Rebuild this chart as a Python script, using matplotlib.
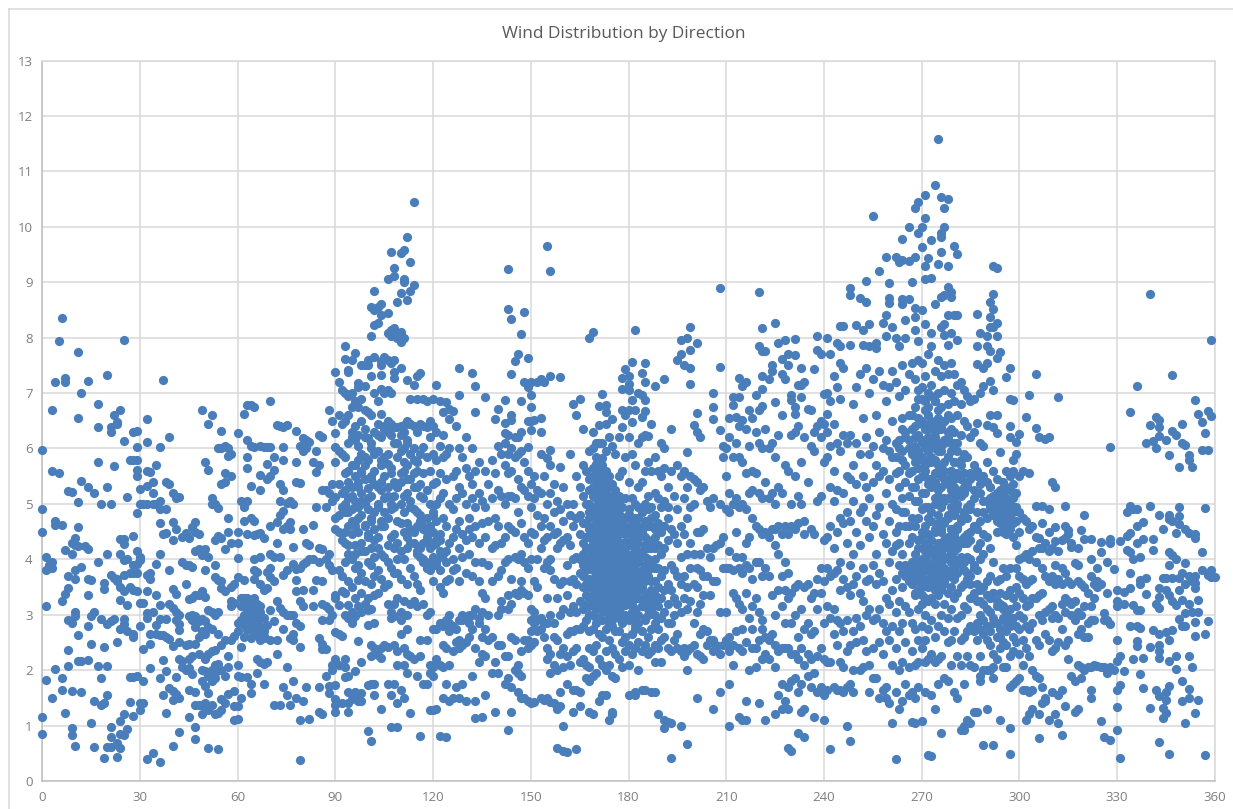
#!/usr/bin/env python3
# -*- coding: utf-8 -*-
import matplotlib
matplotlib.use('Agg')
import matplotlib.pyplot as plt
from matplotlib.lines import Line2D

# speeds read per whole degree, one row per direction, row 0 = first degree of the sector
speed_000 = [
    [5.98,4.9,4.5,1.15,0.84],
    [4.05,3.8,3.15,1.82],
    [3.85,3.9],
    [6.7,5.6,3.95,3.85,1.5],
    [7.2,4.7,4.62,2.02],
    [7.94,5.55],
    [8.35,4.62,3.25,1.85,1.65],
    [7.27,7.2,4.17,3.38,1.23],
    [5.24,3.7,3.48,2.9,2.37,2.07],
    [5.22,4.3,4.1,2.85,1.62,0.95,0.83],
    [4.38,4.25,3.8,3.65,3.05,2.98,0.63],
    [7.74,6.55,5.03,4.58,4.24,2.63,2.17],
    [7.0,5.42,3.87,2.17,1.6],
    [4.24],
    [7.21,5.3,4.18,3.65,3.35,2.8,2.18],
    [3.62,2.97,2.47,1.05],
    [5.2,3.05,1.45,0.62],
    [6.8,6.38,5.75,3.95,2.07],
    [5.0,2.92,1.85,1.37],
    [3.57,3.47,2.42,1.4,0.42],
    [7.32,5.3,4.1,2.83,2.07,1.55,0.62],
    [6.38,6.3,5.0,3.72,2.88,0.98,0.8,0.62],
    [6.6,5.68,3.67,2.93],
    [6.48,6.45,3.65,3.6,2.5,0.68,0.43],
    [6.7,4.37,4.1,3.5,3.27,2.75,1.08,0.85,0.6],
    [7.95,6.13,4.37,4.28,3.98,3.72,3.42,2.93,2.83,1.2,0.83],
    [5.12,4.0,3.18,2.7,0.93],
    [5.8,3.75,3.5,1.87,1.42],
    [6.3,5.8,4.42,3.9,3.75,3.45,2.65,2.6,1.88,1.17],
    [6.32,6.03,5.8,5.62,5.5,4.83,4.15,3.92,3.75,3.42,1.9],
]
speed_030 = [
    [5.27,5.0,4.05,3.98,3.22,2.8,1.4,1.28],
    [5.0,3.22,2.38,1.8,1.4],
    [6.54,6.12,5.6,5.33,5.0,3.72,3.43,3.03,2.95,0.4],
    [5.58,3.75,3.65,2.65,2.47,2.03],
    [5.4,5.2,5.0,3.05,0.5],
    [5.7,5.0,3.92,3.35,2.82,2.65],
    [6.03,5.05,4.9,4.65,4.1,3.18,2.93,2.63,1.85,0.35],
    [7.23,4.45,2.63,2.18,1.55],
    [5.4,4.9,4.47,2.93,2.6,1.98,1.23],
    [6.2,5.35,3.8,3.2,2.57,1.68],
    [5.2,4.68,4.35,3.47,3.12,2.44,1.63,1.47,0.63],
    [5.1,4.55,3.37,3.05,2.9,1.87,1.57],
    [5.13,3.0,2.83,2.72,2.5,2.2,1.5,0.88],
    [4.4,3.95,2.17,2.05],
    [4.47,3.9,3.55,2.45,2.0],
    [4.38,3.9,3.28,2.98,2.48,2.2,2.03,1.65,1.16],
    [4.58,3.87,3.3,3.0,2.9,2.25,1.93],
    [4.68,4.5,4.15,3.35,2.98,2.78,2.47,1.6,1.37,0.97,0.75],
    [4.45,4.18,3.35,2.88,2.6,2.3,1.38],
    [6.7,4.08,3.42,2.92,2.7,2.0,1.8,1.37,1.2],
    [5.75,4.18,3.8,3.32,2.88,2.65,2.2,1.98,1.72,1.4],
    [6.45,5.62,4.05,3.08,2.78,2.3,1.9,1.58,1.28,0.59],
    [6.6,5.1,5.0,3.05,2.75,2.35,2.0,1.8,1.38],
    [5.0,4.35,3.9,3.68,3.0,2.37,2.1,1.95,1.85,1.2],
    [6.0,4.92,4.42,3.62,3.05,2.65,2.12,1.22,0.58],
    [6.32,6.0,5.35,4.38,3.6,3.48,2.45,2.0,1.48,1.28],
    [6.05,5.55,5.4,4.18,3.42,2.55,1.9,1.4],
    [6.0,5.87,4.75,4.5,2.25,2.05,1.57],
    [5.9,5.5,4.3,3.5,3.25,3.15,2.55],
    [3.55,3.22,2.62,1.63,1.35,1.1],
]
speed_060 = [
    [6.27,4.5,4.3,4.03,3.68,2.85,2.7,2.1,1.9,1.35,1.12],
    [5.05,3.3,3.15,2.9,2.42,1.88,1.5],
    [6.62,4.95,4.7,3.62,3.3,2.9,2.6],
    [6.78,6.15,5.85,5.65,5.05,4.45,3.3,3.1,1.88],
    [6.78,6.05,5.33,4.75,3.25,2.85,2.58,1.75,1.58],
    [6.75,6.02,4.7,4.43,4.0,3.8,3.65,3.3,3.1,2.85],
    [4.45,3.78,3.2,3.0,2.75,2.2,1.95],
    [6.05,5.52,5.25,4.48,4.05,3.55,3.15,2.55,2.15],
    [6.02,4.38,3.45,2.7,2.58,2.12,1.75],
    [6.02,5.72,5.45,3.78,3.48,2.82,2.15],
    [6.85,6.02,5.5,4.6,4.1,3.85,3.68,3.08,2.55],
    [5.85,5.62,4.05,3.6,2.88,1.38],
    [6.42,4.67,4.3,3.25,2.55,2.3],
    [6.4,5.35,5.05,4.8,4.05,3.12,1.38],
    [6.38,6.02,5.8,5.25,4.88,4.55,3.72,3.05,2.75,1.7],
    [6.42,5.02,4.6,3.8,3.0,2.05,1.55],
    [5.05,4.68,4.55,3.0,2.58,1.38],
    [5.0,4.22,3.92,3.0,2.65,2.55,1.8],
    [6.32,5.75,5.4,3.82,3.62,3.42,2.85,1.5],
    [6.05,5.38,3.85,3.25,2.8,2.42,1.1,0.37],
    [6.18,5.95,4.55,3.92,3.45,3.15,1.45],
    [6.15,6.0,4.3,3.95,1.7],
    [6.12,4.25,4.0,1.12],
    [5.75,4.62,4.0,3.45,3.15],
    [5.95,5.58,4.95,3.62],
    [6.25,5.7,4.2,3.95,2.58,1.7,1.25],
    [6.2,5.25,4.18,3.6,3.2,2.9,2.48,2.38,1.2],
    [5.25,4.95,4.0,3.15,2.38,1.9],
    [6.7,5.2,4.1,3.9,3.1,2.9,1.72,1.58],
    [6.5,5.35,5.05,3.8,3.0,2.1,2.0],
]
speed_090 = [
    [7.38,6.28,6.02,5.75,5.12,4.75,4.55,3.35,3.3,2.68,2.2,1.73,1.48,1.38,1.25],
    [7.2,6.6,5.95,5.35,4.8,4.5,3.8,3.18,2.65,2.1],
    [7.05,6.45,5.9,5.2,4.95,4.35,3.7,3.42,2.62,1.4],
    [7.84,7.62,7.0,6.5,5.85,5.25,4.85,4.3,3.95,3.4,3.0,2.2,2.05,1.88],
    [7.42,7.38,6.95,6.6,6.1,5.6,5.1,4.6,4.1,3.6,3.18,2.95,1.9,1.6,1.4,1.25],
    [7.6,7.0,6.75,6.2,5.7,5.3,4.9,4.45,4.0,3.5,3.05,2.9,2.85,1.48],
    [7.73,6.85,6.4,6.15,5.5,5.05,4.7,4.25,3.85,3.3,2.98,1.98,1.6,1.52],
    [7.18,7.1,6.75,6.25,5.8,5.4,4.95,4.5,3.9,3.62,3.15,2.52,1.45],
    [7.5,6.9,6.5,5.9,5.6,5.2,4.8,4.3,3.75,3.4,3.05,2.15,1.58,1.45],
    [7.5,7.12,6.7,6.2,5.85,5.45,5.0,4.62,4.15,3.6,3.2],
    [7.6,7.5,6.65,6.18,5.8,5.28,4.9,4.4,3.3,3.08,2.82,1.73,0.9],
    [8.55,8.03,7.3,6.6,6.1,5.5,5.15,4.7,4.2,3.9,3.55,3.1,2.45,2.25,1.75,0.72],
    [8.85,8.5,8.22,7.65,7.0,6.3,5.9,5.35,4.85,4.35,3.7,3.35,2.85,2.4,1.75,1.55],
    [8.56,8.26,6.85,6.45,5.95,5.3,4.95,4.4,3.8,3.4,2.28],
    [8.6,8.4,7.57,7.5,7.32,7.08,6.62,6.2,5.7,5.25,4.7,4.1,3.65,2.4,2.22,1.3],
    [7.65,7.0,6.4,5.85,5.1,4.6,4.05,3.5,2.45],
    [9.05,8.45,8.08,7.6,7.06,6.5,6.3,5.72,5.15,4.75,3.95,3.55,3.2,2.42,1.75],
    [9.55,8.13,8.03,7.55,7.0,6.45,5.65,5.0,4.4,3.85,3.05,2.95,1.55,0.98],
    [9.25,9.12,8.18,8.08,7.6,7.38,7.28,6.38,5.4,4.95,4.2,3.75,3.2,2.98,2.45,1.75],
    [8.65,8.0,6.38,6.1,5.3,4.7,4.3,3.75,3.3,2.35,2.1,1.4,0.98],
    [9.53,8.8,8.1,7.92,7.45,6.4,5.95,5.55,5.0,4.15,3.65,3.05,2.9,2.65,1.65],
    [9.58,9.05,9.0,8.0,6.42,6.0,5.6,5.15,4.5,4.0,3.25,2.4,2.1,1.5],
    [9.82,8.67,7.23,6.5,6.1,5.7,5.2,4.65,4.2,3.55,3.0,2.75,2.3,1.95],
    [9.37,8.85,6.9,6.45,5.9,5.45,4.95,4.55,3.85,3.2,2.25,1.22],
    [10.45,8.95,7.15,6.4,5.8,5.55,4.9,4.3,3.7,3.25,2.2],
    [7.3,6.9,6.3,5.75,5.3,4.85,4.15,3.55,3.15,1.9],
    [7.36,6.45,5.9,5.35,4.8,4.05,3.45,2.55,2.25,0.82],
    [6.9,6.4,6.02,5.55,5.1,4.6,3.95,3.2,1.75],
    [6.85,6.38,5.85,5.25,4.5,3.85,3.0,2.55,1.75],
    [6.5,6.2,5.6,5.0,4.3,3.8,3.05,2.1,1.95,1.28],
]
speed_120 = [
    [6.9,6.4,5.9,5.35,4.85,4.25,3.9,3.6,2.75,2.05,1.9,1.28],
    [7.15,6.3,5.8,5.4,5.0,4.35,3.95,2.75,2.2,1.3],
    [6.85,6.05,5.55,5.1,4.45,4.05,3.5,2.85,2.1,0.82],
    [6.66,6.25,5.85,5.2,4.75,4.1,3.4,2.8,2.45,2.05,1.5],
    [6.83,5.9,5.45,4.6,4.15,3.95,3.6,2.9,2.4,1.75,0.8],
    [6.72,6.54,6.0,5.0,4.3,3.65,3.0,2.85,2.7,2.1,1.45],
    [6.68,5.5,4.9,4.4,4.0,3.8,2.8,2.35,1.5],
    [6.41,5.6,5.1,4.55,3.85,2.75,2.5,1.7],
    [7.45,6.96,6.0,5.3,4.7,4.2,3.6,2.9,2.55,2.4,1.5],
    [5.85,5.2,4.45,4.05,3.0,2.9,2.45,1.75],
    [6.2,5.65,5.0,4.35,3.75,2.95,2.5,1.45],
    [5.5,4.75,4.55,4.1,3.0,2.85,2.6],
    [7.36,6.0,5.35,5.1,4.4,3.7,3.0,2.75,1.9],
    [7.13,6.66,5.6,4.95,4.6,3.95,3.1,2.4,1.45,1.13],
    [5.75,5.2,4.3,3.6,2.95,2.85,2.15],
    [5.05,4.65,3.95,3.4,3.05,2.6,2.3,1.15],
    [6.93,5.6,4.95,4.4,3.3,2.75,2.25,1.55],
    [5.35,4.7,3.9,3.0,2.55],
    [5.8,5.1,4.2,3.6,2.6,1.95],
    [6.54,5.55,4.75,4.25,2.15,1.25],
    [6.72,6.05,5.25,4.6,3.7,3.0,2.45,1.95],
    [5.9,5.15,4.3,3.8,3.25,3.1,2.45],
    [6.87,6.46,6.28,6.1,5.7,5.0,4.4,3.95,2.25,1.75],
    [9.23,8.51,6.25,5.9,5.55,5.15,4.6,4.0,3.35,3.1,2.25,1.85,0.92],
    [8.33,7.34,6.6,6.51,6.0,5.6,5.15,4.55,3.65,3.2,2.6,1.7,1.25],
    [7.58,6.2,5.85,5.1,4.5,4.05,3.4,2.55,2.0],
    [7.7,6.2,5.9,5.45,4.85,4.0,3.35,2.1,1.95,1.6],
    [8.07,6.85,6.3,5.95,5.3,4.65,4.1,3.6,3.45,2.35,1.9,1.5],
    [8.46,7.2,5.75,5.25,4.4,3.95,3.4,2.55,1.5],
    [7.63,7.1,6.5,6.03,5.6,5.15,4.3,3.85,3.35,2.55,2.4,1.45],
]
speed_150 = [
    [7.2,6.97,6.75,6.5,6.34,5.35,4.95,4.5,4.0,3.1,2.9,2.7,2.45,1.4],
    [6.52,5.5,5.1,4.45,3.6,3.05,2.85,2.5,1.42],
    [7.2,5.25,4.8,4.0,3.5,2.9,2.7],
    [7.25,6.55,6.3,5.9,5.2,4.6,4.2,2.95,2.75,1.5],
    [7.2,5.5,4.75,4.35,3.85,2.85,2.6,1.47],
    [9.66,5.82,5.0,4.4,3.95,3.3,2.85,2.4,2.2,1.5],
    [9.2,7.3,5.98,5.7,5.2,4.6,4.0,3.8,3.0,2.3,1.95,1.42],
    [5.35,4.85,4.45,3.65,2.85,2.6,2.1,1.4],
    [5.05,4.5,4.2,3.3,2.55,2.0,1.3,0.6],
    [7.29,5.67,4.9,4.3,3.55,3.0,2.3,1.6,1.35],
    [5.3,4.7,4.35,3.6,3.1,2.4,2.05,1.0,0.55],
    [5.0,4.4,3.9,3.35,2.65,2.25,1.75,0.52],
    [5.9,4.8,4.25,3.6,3.05,2.7,2.1],
    [6.8,5.0,4.6,4.0,3.65,3.15,2.7,2.35,1.65,1.25],
    [6.6,5.5,4.75,4.05,3.55,3.05,2.75,2.4,1.65,0.58],
    [6.89,5.3,4.8,4.45,4.0,3.75,3.25,2.75,2.15,1.6,1.35],
    [6.36,5.7,5.15,4.65,4.3,3.9,3.5,3.1,2.8,2.2],
    [5.6,5.0,4.65,4.2,3.8,3.35,2.9,2.1,1.85],
    [7.99,5.95,5.45,5.0,4.75,4.4,4.05,3.65,3.3,3.0,2.7,2.4,2.05,1.8,1.25],
    [8.11,6.3,6.0,5.65,5.3,4.95,4.6,4.3,3.95,3.65,3.35,3.0,2.75,2.35,1.9,1.2],
    [6.1,5.85,5.6,5.35,5.1,4.85,4.6,4.35,4.1,3.85,3.6,3.35,3.1,2.85,2.45,1.95],
    [6.76,6.42,6.1,5.8,5.55,5.3,5.05,4.8,4.55,4.3,4.05,3.8,3.55,3.3,2.95,2.65,2.2,1.45],
    [6.98,6.1,5.7,5.45,5.2,4.95,4.7,4.45,4.2,3.95,3.7,3.45,3.2,2.9,2.6,2.1,1.55],
    [6.78,6.66,6.45,5.95,5.6,5.3,5.05,4.8,4.55,4.3,4.05,3.8,3.55,3.3,3.05,2.75,2.35,2.0,1.55],
    [6.2,5.5,5.15,4.85,4.6,4.35,4.15,3.9,3.65,3.45,3.2,2.95,2.55,2.1,1.1],
    [6.54,6.05,5.35,5.0,4.7,4.45,4.2,3.95,3.75,3.5,3.3,3.05,2.8,2.4,1.9,1.25,1.2],
    [5.9,5.25,4.9,4.65,4.4,4.15,3.9,3.7,3.45,3.25,3.0,2.7,2.3,1.85],
    [6.2,5.5,5.05,4.7,4.45,4.2,3.95,3.7,3.5,3.25,3.05,2.7,2.2],
    [7.27,7.08,6.7,6.39,5.6,4.95,4.6,4.3,4.05,3.8,3.55,3.35,3.15,2.85,2.5,2.05],
    [7.43,6.6,5.85,5.1,4.75,4.45,4.2,3.95,3.7,3.5,3.3,3.0,2.6,2.35],
]
speed_180 = [
    [7.3,7.17,7.05,6.7,6.2,5.4,4.9,4.55,4.3,4.0,3.75,3.5,3.25,2.9,2.45,2.1,1.55],
    [7.56,6.87,6.48,5.9,5.1,4.7,4.4,4.1,3.85,3.6,3.35,3.05,2.65,2.3],
    [8.13,6.7,5.7,5.0,4.55,4.2,3.95,3.7,3.4,3.1,2.75,2.4,1.6,1.55],
    [7.0,6.1,5.3,4.75,4.4,4.0,3.65,3.3,2.85,2.5,2.0],
    [7.36,6.96,6.57,6.2,5.4,4.85,4.5,4.15,3.8,3.5,3.15,2.7,2.35,1.65],
    [7.54,7.2,6.88,6.68,6.24,5.6,5.0,4.6,4.25,3.9,3.6,3.25,2.9,2.45,1.65],
    [6.22,5.75,5.15,4.7,4.35,4.0,3.7,3.3,3.0,2.6,2.3],
    [6.45,5.6,4.95,4.6,4.2,3.85,3.45,3.1,2.75,2.35,1.6],
    [7.12,5.85,5.2,4.8,4.4,4.0,3.6,3.25,2.85,2.45,2.15,1.6],
    [5.6,5.1,4.65,4.25,3.85,3.5,3.15,2.75,2.4,1.2],
    [6.1,5.5,4.95,4.5,4.1,3.7,3.3,2.95,2.55,2.15],
    [7.25,6.0,5.65,5.05,4.6,4.2,3.8,3.45,3.05,2.6,1.1,0.95],
    [5.3,4.95,4.75,4.35,3.55,3.2,2.85,2.4,1.07],
    [6.36,5.6,4.55,3.9,3.45,2.85,2.35,1.05,0.42],
    [5.15,4.45,3.8,3.3,3.0,2.55],
    [7.6,5.7,4.9,4.3,3.7,3.2,2.65,2.4],
    [7.95,7.7,5.5,4.6,4.05,3.55,3.05,2.35,1.0],
    [7.5,5.6,5.1,4.45,3.7,3.3,2.4,2.25],
    [8.0,5.93,5.3,4.75,4.1,3.5,3.1,2.35,2.0,0.67],
    [8.19,7.78,7.45,7.17,5.5,4.95,4.3,3.85,3.25,2.4],
    [6.42,5.45,5.0,4.1,3.55,2.85,2.45],
    [7.9,6.64,6.3,5.4,4.5,3.85,3.5,3.05,2.3,1.5],
    [6.2,5.25,4.5,4.1,3.8,3.2,2.65,2.25],
    [5.3,4.55,3.7,3.35,2.75,2.2],
    [5.05,4.2,3.7,2.7,2.45],
    [4.95,4.05,3.35,2.55],
    [7.0,6.75,6.54,5.1,4.2,3.6,2.55,2.35,1.3],
    [4.25,3.6,2.45,2.4],
    [8.9,7.47,6.33,5.0,4.3,3.05,2.3,1.6],
    [6.05,5.85,4.4,3.85,2.45],
]
speed_210 = [
    [6.0,5.5,4.9,3.85,3.05,2.55,2.45],
    [6.55,6.2,5.2,4.85,4.15,3.85,2.6,2.35,1.75,1.0],
    [6.92,6.78,5.85,5.0,3.8,3.4,2.45,2.1],
    [6.57,6.1,5.1,4.5,4.05,3.3,2.7],
    [7.28,6.92,6.4,5.85,4.95,3.85,3.2,2.4,1.15],
    [7.12,6.52,5.75,5.0,4.05,3.75,3.1,2.75,2.35,1.1],
    [7.2,6.35,5.55,4.9,4.3,3.9,3.4,2.5,1.45,1.1],
    [6.7,6.05,5.2,4.4,3.85,2.95,2.0],
    [6.55,5.6,5.25,4.75,3.65,3.15,2.75,2.4],
    [6.96,6.3,5.55,4.6,3.95,3.3,2.4,2.05],
    [8.82,7.84,6.7,6.1,5.2,4.55,3.95,3.05,2.55,1.4],
    [8.17,7.75,7.3,7.07,6.76,6.0,5.1,4.45,3.7,2.9,2.75,2.2],
    [7.75,6.35,5.4,4.5,3.85,2.6,2.3,1.1],
    [7.25,6.0,5.1,4.4,3.7,2.55,2.2],
    [7.5,7.4,6.1,5.2,4.55,3.35,2.65],
    [8.26,6.84,5.85,5.0,4.55,4.25,3.0,2.45,2.05,1.2],
    [7.9,6.25,5.3,4.6,4.1,3.45,2.35,1.55],
    [7.62,7.35,6.6,5.2,4.45,3.7,3.15,2.4,1.75,1.3],
    [7.96,7.26,5.7,4.6,3.95,3.45,2.85,2.4,1.45],
    [7.7,7.5,5.6,4.45,3.75,3.3,2.4,1.7,1.3,0.6],
    [6.96,6.87,6.25,5.0,4.6,3.4,2.85,2.3,1.8,0.55],
    [7.97,7.68,6.74,6.63,6.3,5.5,4.55,3.5,3.0,2.3,1.85],
    [7.15,6.4,5.15,4.65,3.55,2.6,2.2,1.6,0.87],
    [7.45,7.15,6.92,5.75,5.0,3.1,2.4,1.75,1.25],
    [7.2,6.2,4.7,4.45,3.5,2.75,2.1,1.3,0.8],
    [6.72,5.4,3.55,2.85,2.3,1.9],
    [6.69,6.05,4.55,3.3,2.65,2.2,1.7],
    [7.43,6.3,5.95,4.45,3.4,2.7,1.95,1.15],
    [8.03,7.78,6.4,5.05,3.65,3.1,2.25,1.6],
    [7.7,6.5,6.2,5.15,3.85,3.4,2.4,1.7],
]
speed_240 = [
    [6.98,6.45,5.75,4.35,3.6,2.85,2.2,1.55,1.1],
    [8.0,7.0,6.62,6.3,5.85,4.4,3.85,3.15,2.15,1.65],
    [7.7,6.85,6.05,5.3,4.6,3.7,2.95,2.15,0.57],
    [7.3,6.45,5.6,5.05,4.2,3.75,3.1,2.65,1.7],
    [7.9,7.1,6.1,5.25,4.5,3.8,2.9,2.45,1.65],
    [8.21,7.85,7.55,6.9,5.95,4.75,3.95,3.45,2.85,2.15,1.65],
    [8.21,7.45,6.25,5.2,4.65,3.65,2.7,2.05,1.6],
    [6.1,5.5,4.85,4.3,3.5,2.9,2.35,1.7,1.0],
    [8.9,8.76,7.86,6.25,5.45,4.7,3.9,3.35,2.45,1.75,0.72],
    [6.8,5.7,5.05,4.1,3.55,2.7,2.0,1.6],
    [8.22,7.1,6.1,5.35,4.5,3.7,2.95,2.5],
    [8.72,7.35,5.9,4.85,4.25,3.4,2.8,2.0],
    [8.13,7.87,6.55,5.5,4.95,3.85,3.25,2.55,2.05],
    [9.03,8.64,7.45,6.2,5.3,4.7,3.6,3.0,2.35],
    [8.25,7.85,7.0,5.9,5.1,4.4,3.65,3.1,2.1,1.6],
    [10.19,7.25,6.05,5.4,4.6,3.9,2.9,2.4,1.85],
    [7.9,7.82,6.6,5.7,4.8,4.1,3.55,2.95,1.85],
    [9.21,7.4,6.3,5.5,4.95,3.75,3.1,2.5,1.5],
    [8.26,7.15,6.0,5.6,4.45,3.6,2.85,2.3,1.65],
    [9.46,8.4,8.03,6.85,6.15,5.2,4.3,3.3,2.7,1.7,1.5],
    [8.98,8.72,8.62,7.1,5.95,5.45,4.7,3.95,3.2,2.55,1.4],
    [8.2,7.4,6.5,5.85,5.0,4.15,3.45,2.8,2.1,1.05],
    [9.45,8.0,7.2,6.1,5.55,4.5,3.65,3.05,2.4,1.6,0.4],
    [9.36,7.85,6.95,6.0,5.3,4.6,3.9,3.25,2.7,2.0,1.3],
    [9.78,9.4,8.7,8.6,7.5,6.55,5.8,4.85,4.1,3.5,2.85,2.15,1.45],
    [8.32,8.0,7.05,6.3,5.4,4.6,3.7,3.15,2.5,1.75],
    [9.99,9.39,8.7,7.35,6.0,5.15,4.3,3.8,3.05,2.05,1.55],
    [9.0,7.55,6.6,5.95,5.6,4.75,3.95,3.55,2.85,2.35,1.6,1.07],
    [10.34,9.45,8.53,8.38,8.14,7.25,6.4,6.05,5.85,5.3,4.6,3.85,3.7,3.35,2.75,2.1,1.5,1.05],
    [10.45,9.88,7.93,7.6,6.9,6.25,5.95,5.65,5.05,4.35,3.95,3.6,3.1,2.55,2.15,1.7],
]
speed_270 = [
    [9.99,9.63,8.5,7.55,7.1,6.5,6.15,5.85,5.5,4.9,4.4,4.0,3.75,3.5,3.2,2.8,2.4,1.09],
    [10.57,10.16,9.3,9.06,8.25,7.3,6.7,6.35,6.0,5.7,5.2,4.6,4.15,3.85,3.55,3.0,2.55,2.15,1.6],
    [9.43,7.7,7.0,6.6,6.2,5.95,5.45,4.95,4.45,4.1,3.8,3.5,3.25,2.75,2.2,0.47],
    [9.77,9.08,8.08,7.84,7.15,6.5,6.05,5.75,5.3,4.7,4.2,3.9,3.6,3.3,2.9,2.3,1.55,0.46],
    [10.76,8.6,7.4,6.85,6.3,6.0,5.55,5.1,4.55,4.05,3.8,3.5,3.2,2.6,2.15,1.3],
    [11.58,9.33,7.6,7.0,6.55,6.1,5.7,5.25,4.8,4.3,3.95,3.65,3.35,2.8,2.2,1.75],
    [10.54,9.88,9.82,9.54,8.74,8.2,7.3,6.75,6.35,5.95,5.5,5.0,4.5,4.1,3.75,3.45,3.0,2.25,0.87],
    [10.34,10.0,8.76,8.25,8.05,7.5,7.05,6.5,6.1,5.6,5.1,4.65,4.2,3.85,3.55,3.2,2.7,1.85],
    [10.5,9.3,8.92,8.4,7.87,7.35,6.8,6.3,5.85,5.35,4.8,4.4,4.05,3.7,3.4,2.95,2.5,1.8],
    [8.83,8.74,8.08,7.55,7.0,6.55,6.1,5.6,5.1,4.55,4.15,3.8,3.5,3.1,2.55,2.1],
    [9.66,8.4,7.35,6.85,6.3,5.75,5.3,4.85,4.4,4.0,3.65,3.3,2.7,1.6],
    [9.5,8.41,7.95,7.15,6.6,6.1,5.5,5.0,4.6,4.2,3.75,3.4,2.95,2.25,1.5],
    [7.2,6.8,6.25,5.7,5.2,4.7,4.3,3.9,3.5,3.0,2.55,2.1,0.92],
    [7.05,6.5,5.9,5.3,4.85,4.4,3.95,3.55,3.15,2.6,1.75,1.0,0.92],
    [6.95,6.4,5.85,5.35,4.95,4.45,4.05,3.65,3.1,2.7,2.25,1.1],
    [6.85,6.2,5.55,5.0,4.5,4.0,3.7,3.3,2.8,2.1,1.05],
    [6.9,6.3,5.7,5.1,4.6,3.9,3.4,2.7,2.05,1.25],
    [8.42,7.84,7.52,6.46,5.6,4.85,4.2,3.55,2.85,1.25],
    [8.09,7.0,6.1,5.35,4.7,4.0,3.45,3.0,2.25,1.9,1.8],
    [7.45,7.13,6.04,5.5,4.85,4.1,3.5,2.9,2.0,0.65],
    [8.03,7.84,7.54,6.42,5.75,5.05,4.4,3.6,3.1,2.55,2.0,1.3],
    [8.65,8.37,8.2,7.76,7.22,6.61,5.3,4.95,4.2,3.7,3.05,2.45,2.0],
    [9.3,8.79,8.52,8.2,7.05,6.38,5.6,5.0,4.8,3.95,3.4,2.85,2.3,2.05,1.85,0.65],
    [9.25,8.27,8.03,7.63,6.6,6.28,5.45,5.1,4.7,4.5,3.6,3.15,2.6,2.2],
    [7.74,5.93,5.25,5.0,4.85,4.65,3.65,3.2,2.75,2.4,1.1],
    [5.4,5.15,4.95,4.7,4.5,3.85,3.1,2.95,2.5,2.05],
    [7.29,5.6,5.3,5.05,4.85,4.65,4.45,3.7,3.0,2.7,2.45,2.05],
    [7.45,6.9,6.41,6.2,5.5,5.25,5.0,4.75,4.55,3.85,3.1,2.8,2.25,1.7,0.95,0.49],
    [6.87,5.8,5.6,5.35,5.1,4.85,4.65,4.4,3.3,2.95,2.6,2.35,1.75],
    [6.12,5.9,5.2,4.95,4.7,4.25,3.85,3.5,3.15,2.8,2.5,1.8],
]
speed_300 = [
    [6.26,5.5,4.85,4.5,4.0,3.7,3.4,3.0,2.75,2.3,1.85],
    [5.6,4.75,4.05,3.65,3.3,2.95,2.55,2.1,1.65],
    [6.57,4.7,4.1,3.55,3.15,2.8,2.4,1.65,1.1],
    [6.97,5.55,4.55,4.0,3.6,3.2,2.75,2.25,1.6,1.2],
    [4.6,4.15,3.65,3.3,2.85,2.0,1.65,1.3],
    [7.35,6.37,4.96,4.4,3.95,3.3,2.55,1.9],
    [6.2,4.39,4.2,3.35,3.0,2.45,1.85,1.2,0.77],
    [4.96,4.66,4.2,3.85,3.4,2.9,1.7,1.4],
    [6.17,4.3,3.7,3.05,2.65,1.5,1.45],
    [6.2,4.9,4.5,4.15,3.6,3.1,2.55,1.1],
    [5.4,4.2,3.7,3.15,2.95,2.35,1.6],
    [5.3,4.58,4.33,3.9,3.55,3.0,2.4,1.2],
    [6.93,4.15,3.65,2.95,2.5,1.55,1.05],
    [4.35,3.85,3.55,3.2,2.75,1.65,0.83],
    [4.96,4.6,4.39,3.75,3.3,3.05,2.45,1.35],
    [4.52,4.45,3.6,3.25,2.55,2.2],
    [4.3,4.23,3.55,3.2,3.0,1.9],
    [3.93,3.25,2.9,1.8,1.25],
    [4.2,3.9,3.6,3.05,2.65,2.1,1.3],
    [4.52,3.55,3.0,2.75,2.05,1.85],
    [4.8,4.36,3.5,3.15,2.6,2.0],
    [3.4,2.85,2.6,2.05],
    [4.37,4.0,3.7,3.15,2.9,2.05,1.65,1.5],
    [3.55,3.3,2.9,2.1],
    [3.84,3.6,3.5,2.08],
    [4.31,4.13,3.55,2.05,1.08],
    [3.04,2.9,2.05,0.8],
    [3.95,3.39,2.9,1.95],
    [6.03,4.36,4.3,2.84,2.05,0.74],
    [3.83,2.0],
]
speed_330 = [
    [3.45,3.24,3.16,2.55,2.16,1.64,1.34,0.92],
    [4.33,2.25,1.73,0.41],
    [3.41,3.2,1.99],
    [4.85,4.42,4.17],
    [6.66,4.96,4.48,4.14,3.75,3.48,2.8],
    [4.9,4.0,3.18,2.2],
    [7.12,4.9,4.6,4.3,3.09,2.79,2.52,2.44],
    [4.05,3.63,3.56,3.09,2.76,1.93],
    [4.67,4.37,2.22,1.67],
    [6.1,3.66,3.37],
    [8.78,6.42,4.96,2.42,1.32],
    [6.14,4.36,4.17,2.73],
    [6.57,6.0,3.2,1.64],
    [6.52,6.39,6.23,4.8,3.48,3.32,3.12,2.66,2.46,2.34,2.22,1.54,0.71],
    [4.55,3.66,1.32,1.14],
    [6.15,3.66,3.45,2.69,1.61,1.46,1.23],
    [5.89,4.8,4.72,4.14,3.9,3.35,2.54,2.16,1.72,0.49],
    [7.33,6.32,4.7,4.08,3.66,3.25,2.73],
    [6.25,4.48,4.0,3.18,2.26,2.02],
    [5.67,4.95,4.78,4.64,3.66,3.45,2.92],
    [6.45,6.09,3.75,3.27,2.79,1.8,1.44],
    [6.06,4.54,3.93,3.55,3.03,2.79,1.05],
    [5.88,5.79,4.48,3.7,3.2,2.26,1.66,1.5],
    [5.67,3.6,3.05,2.05],
    [6.87,4.46,4.38,3.7,3.57,3.48,2.86,2.62,1.23],
    [6.62,3.27,3.05,1.46],
    [6.48,5.97,4.13,3.81],
    [6.27,4.92,2.66,0.47],
    [6.67,5.98,3.72,2.88],
    [7.96,6.58,3.8,3.68],
    [3.68],
]

# second reading of the crowded patches, where the dots merge into blobs
blob_062 = [
    [3.0,2.82],
    [3.22,2.95,2.72],
    [3.02,2.78],
    [3.18,2.92,2.7],
    [3.12,2.88,2.66],
    [3.05,2.8],
    [2.95,2.62],
]
blob_093 = [
    [5.55,5.0,4.5],
    [5.4,4.85,4.25],
    [6.3,5.15,4.7],
    [5.7,4.6,4.1],
    [6.05,5.3,4.75],
    [5.55,5.05,4.15],
    [6.35,5.7,4.6],
    [5.1,4.45,3.95],
    [6.0,5.45,4.75],
    [5.6,4.55,4.05],
    [6.25,5.0,4.2],
    [5.8,5.4,4.6],
    [6.35,5.5,4.85],
    [5.9,5.3,4.25],
    [6.25,5.55,4.9],
    [6.1,5.15,4.45],
    [5.85,5.3,4.0],
    [6.25,5.4,4.65],
    [6.3,5.75,4.85],
    [6.15,5.45,4.4],
    [6.45,5.05,4.3],
    [6.0,5.3,4.5],
    [5.6,4.6,4.1],
    [5.15,4.7,4.2],
    [4.55,4.3,4.0],
    [4.75,4.4,3.85],
    [4.6,4.2,3.95],
    [4.8,4.5,4.05],
    [4.7,4.3,3.9],
    [4.35,4.15,3.8],
]
blob_166 = [
    [4.1,3.7,3.2],
    [4.4,3.95,3.55],
    [5.25,4.85,4.55,4.2,3.85,3.5,3.15],
    [5.5,5.15,4.8,4.45,4.15,3.8,3.5,3.2],
    [5.72,5.48,5.22,4.97,4.72,4.47,4.22,3.97,3.72,3.47,3.22,2.95],
    [5.67,5.42,5.17,4.92,4.67,4.42,4.17,3.92,3.67,3.42,3.17],
    [5.82,5.57,5.32,5.07,4.82,4.57,4.32,4.07,3.82,3.57,3.32,3.07],
    [5.43,5.18,4.93,4.68,4.43,4.18,3.93,3.68,3.43,3.18],
    [5.3,5.0,4.72,4.47,4.25,4.02,3.78,3.55,3.32,3.1,2.85],
    [5.1,4.83,4.57,4.32,4.07,3.85,3.62,3.4,3.15,2.9],
    [4.95,4.77,4.52,4.27,4.03,3.8,3.58,3.37,3.12],
    [5.15,4.82,4.57,4.32,4.08,3.82,3.6,3.38,3.15,2.95],
    [4.77,4.47,4.17,3.92,3.67,3.42,3.22,3.0],
    [4.6,4.32,4.12,3.87,3.62,3.4,3.17],
    [4.82,4.55,4.25,3.97,3.72,3.47,3.2,2.95],
    [4.57,4.3,4.05,3.8,3.55,3.22,2.95],
    [4.75,4.45,4.15,3.8,3.5,3.1,2.8],
    [4.95,4.6,4.3,3.95,3.6,3.3,3.0],
    [4.85,4.5,4.1,3.75,3.45,3.15],
    [4.7,4.4,4.05,3.65,3.3,2.95],
    [4.9,4.6,4.2,3.85,3.4,3.1],
    [4.75,4.3,3.95,3.6,3.25],
    [4.55,4.2,3.85,3.35,3.0],
]
blob_262 = [
    [5.85,4.9,4.25],
    [6.15,5.6,4.3],
    [6.35,5.95,5.1,3.75],
    [6.2,5.7,4.85,3.9],
    [6.6,6.15,5.55,4.6,3.6],
    [6.35,5.9,5.3,4.4,3.75],
    [6.75,6.2,5.75,5.05,4.1,3.4],
    [7.05,6.55,6.2,5.45,4.75,4.2,3.8,3.45],
    [6.9,6.45,6.1,5.8,5.2,4.5,3.95,3.65,3.35],
    [6.85,6.4,6.05,5.6,4.95,4.25,3.9,3.6,3.3],
    [6.75,6.35,6.1,5.75,5.35,4.75,4.3,3.95,3.65],
    [6.95,6.45,6.15,5.85,5.45,4.85,4.35,3.9,3.7],
    [6.85,6.45,6.2,5.8,5.4,5.0,4.5,4.15,3.75,3.45],
    [6.7,6.35,5.95,5.55,5.15,4.65,4.25,3.95,3.6],
    [6.4,6.05,5.65,5.3,4.95,4.55,4.15,3.85,3.5],
    [6.5,6.15,5.75,5.45,5.05,4.7,4.35,4.0,3.6],
    [6.6,6.2,5.85,5.45,5.1,4.75,4.35,4.05,3.7],
    [6.35,5.95,5.6,5.25,4.95,4.55,4.25,3.95],
    [6.1,5.75,5.45,5.1,4.8,4.45,4.15,3.85],
    [5.95,5.55,5.25,4.9,4.55,4.25,3.95],
    [5.8,5.45,5.15,4.75,4.35,4.05],
    [5.55,5.2,4.75,4.3,3.8],
    [5.3,4.75,4.3,3.75],
    [5.45,4.9,4.35,3.55],
    [5.25,4.6,3.85,3.3],
    [5.5,4.55,3.8,3.25,2.55],
    [5.2,4.3,3.25,2.75],
    [5.05,4.45,3.2,2.65],
    [5.4,4.75,3.35,2.8],
    [5.1,4.9,3.3,2.7],
    [5.15,4.8,3.4,2.95],
    [5.2,4.95,4.75,3.25,2.85],
    [5.1,4.9,4.7,3.4,2.6],
    [5.2,5.05,4.8,4.55,3.15],
    [5.1,4.9,4.7,3.35,2.85],
    [5.0,4.75,3.45,2.95],
]

sectors = [speed_000, speed_030, speed_060, speed_090, speed_120, speed_150,
           speed_180, speed_210, speed_240, speed_270, speed_300, speed_330,
           blob_062, blob_093, blob_166, blob_262]
sector_starts = [0, 30, 60, 90, 120, 150, 180, 210, 240, 270, 300, 330,
                 62, 93, 166, 262]

title = 'Wind Distribution by Direction'
x_ticks = list(range(0, 361, 30))
y_ticks = list(range(0, 14))

direction = []
speed = []
for start, rows in zip(sector_starts, sectors):
    for offset, values in enumerate(rows):
        for value in values:
            direction.append(start + offset)
            speed.append(value)

plt.rcParams['font.family'] = ['Open Sans', 'DejaVu Sans']

W, H = 1233, 809
fig = plt.figure(figsize=(W/100, H/100), dpi=100)
ax = fig.add_axes([42.3/W, (H-781)/H, 1172.4/W, 720.5/H])

ax.scatter(direction, speed, s=44, color='#4a7ebb', linewidths=0, clip_on=False, zorder=3)

ax.set_xlim(0, 360)
ax.set_ylim(0, 13)
ax.set_xticks(x_ticks)
ax.set_yticks(y_ticks)
ax.grid(True, color='#d9d9d9', lw=1.1)
ax.set_axisbelow(True)
ax.tick_params(length=0, labelsize=9.5, labelcolor='#7f7f7f', pad=7)
for side in ax.spines.values():
    side.set_color('#d9d9d9')
    side.set_linewidth(1.1)
ax.spines['left'].set_color('#bfbfbf')
ax.spines['bottom'].set_color('#bfbfbf')

fig.text(624/W, 1-33.5/H, title, ha='center', va='center', fontsize=12.4, color='#595959')

# outer chart frame, cut by the screenshot on the right and bottom
fig.add_artist(Line2D([8.5/W, 8.5/W], [0, 1-9/H], color='#d9d9d9', lw=1.1))
fig.add_artist(Line2D([8.5/W, 1], [1-9/H, 1-9/H], color='#d9d9d9', lw=1.1))

fig.savefig('out.png', dpi=100)
